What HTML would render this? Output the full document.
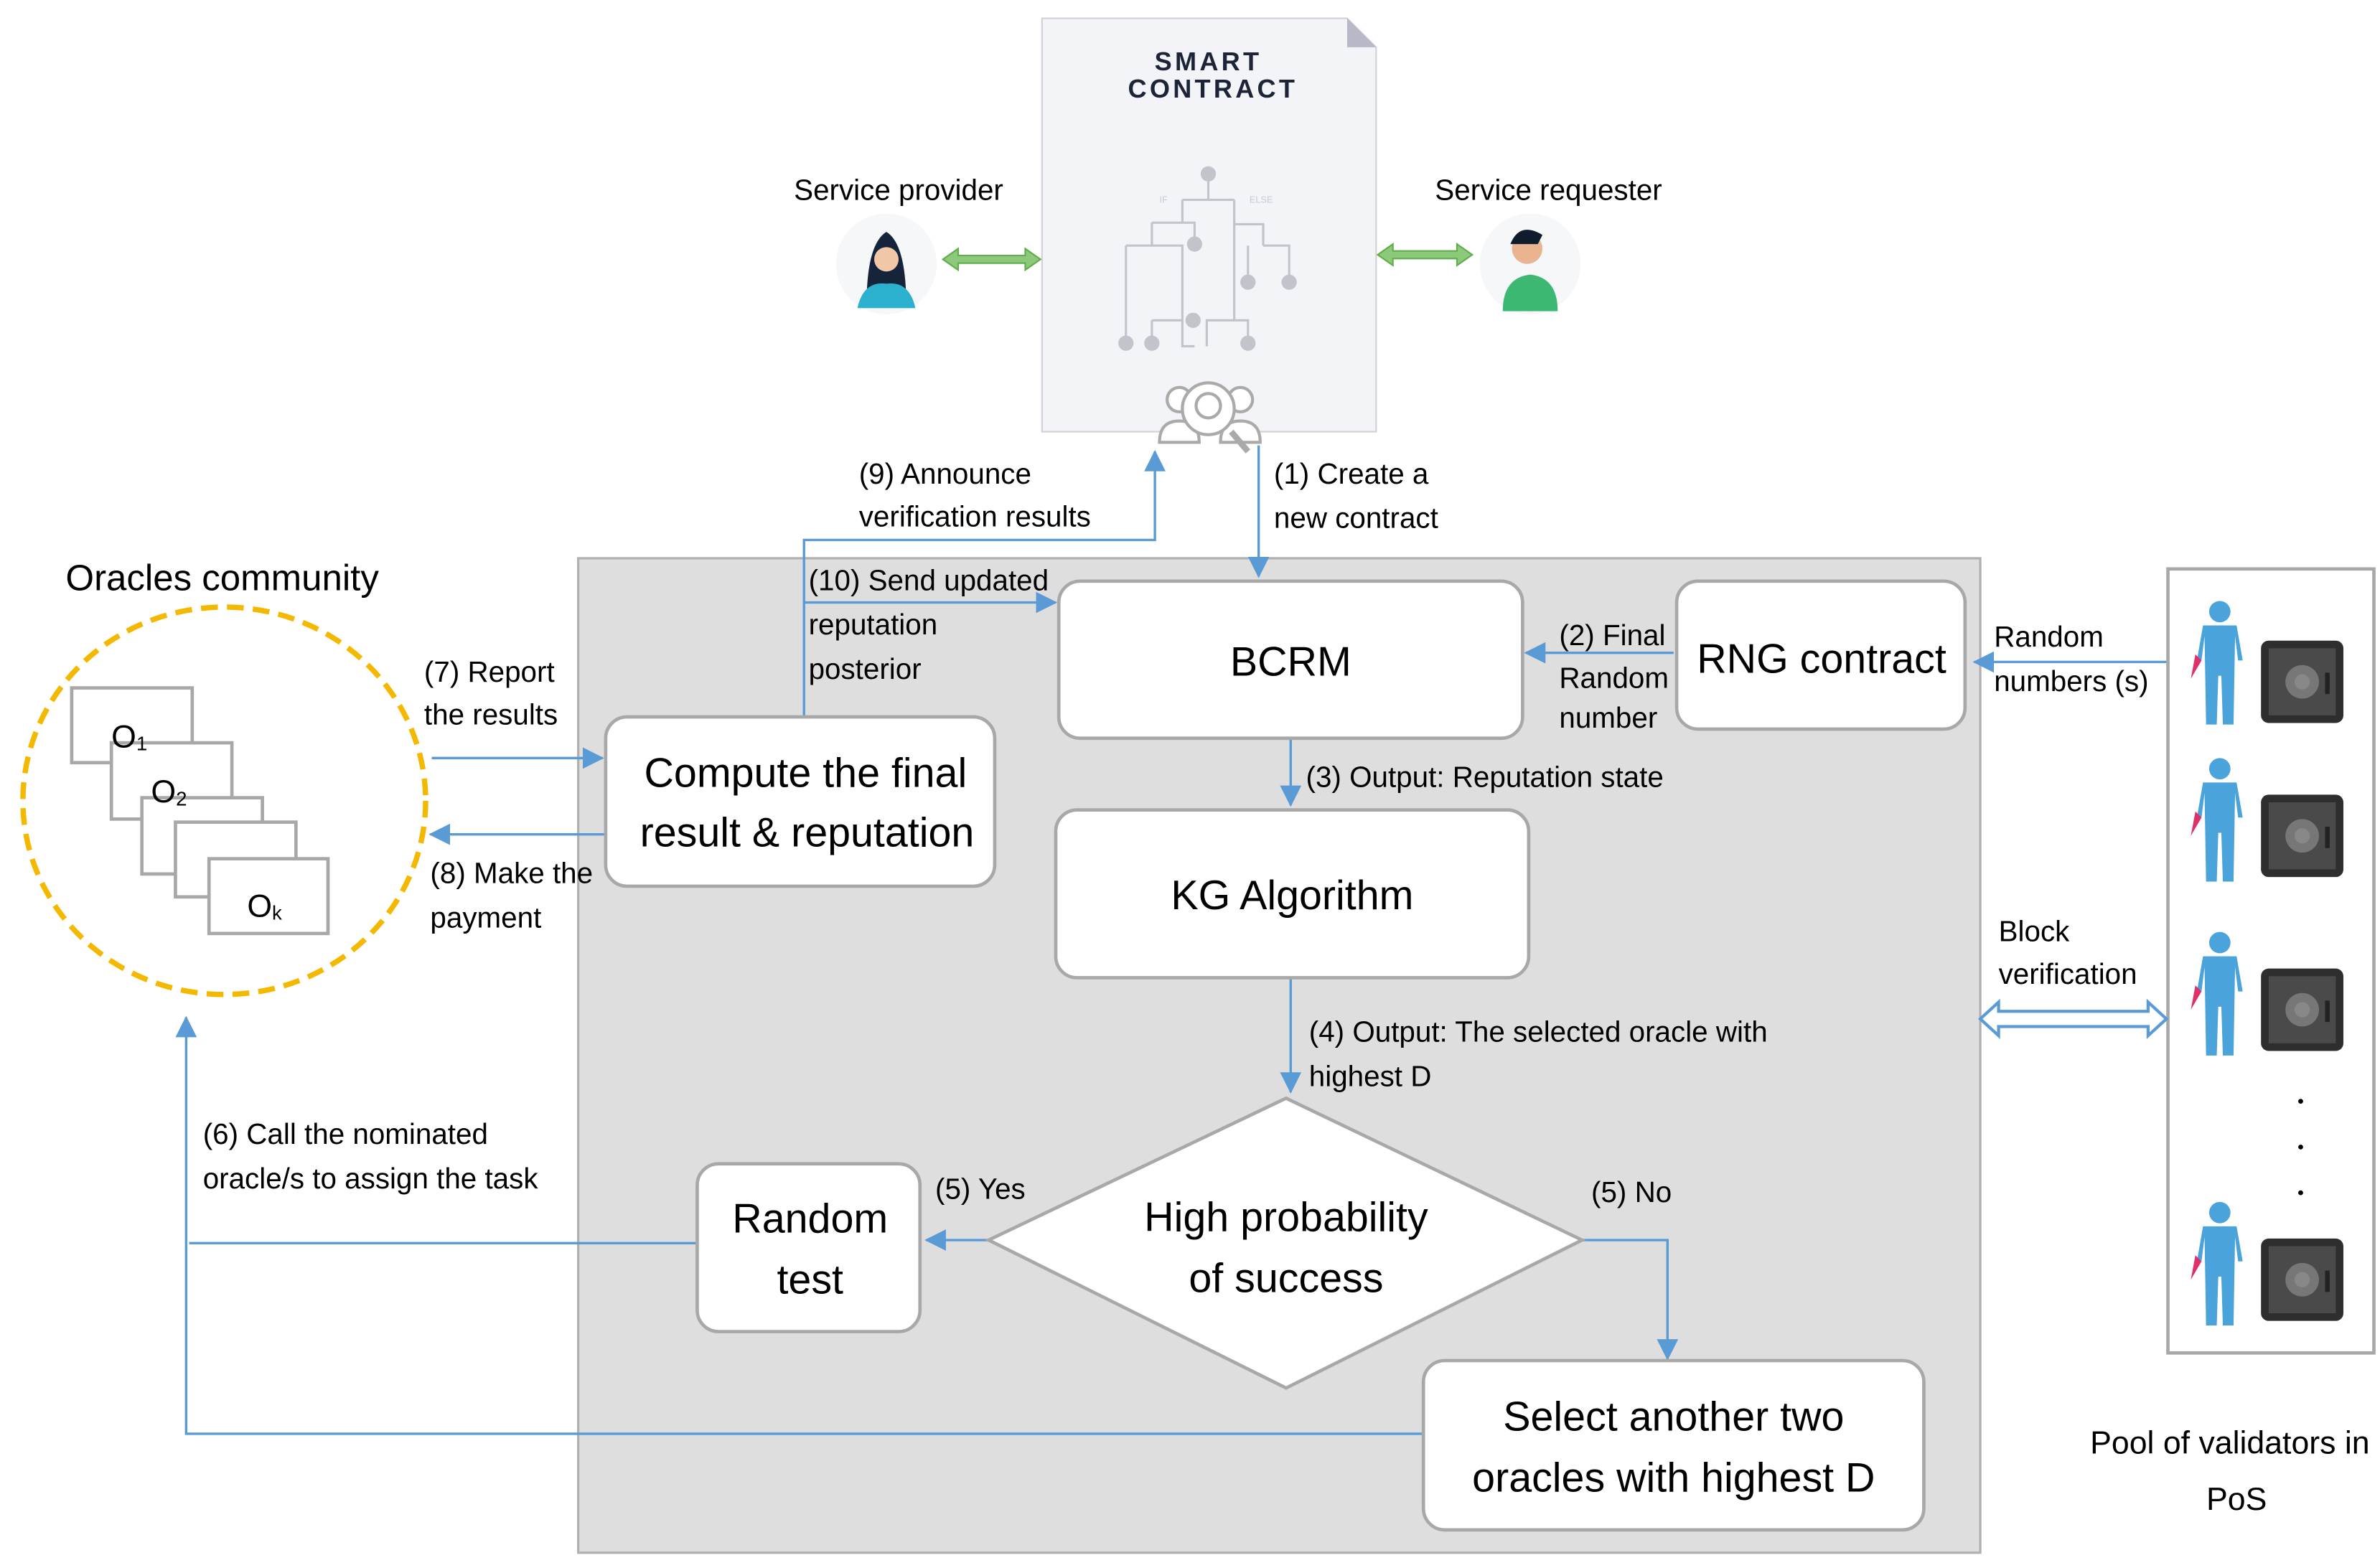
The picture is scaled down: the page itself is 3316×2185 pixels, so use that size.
<!DOCTYPE html>
<html><head><meta charset="utf-8"><style>
html,body{margin:0;padding:0;background:#fff;}
svg{display:block;}
text{font-family:"Liberation Sans Narrow","Liberation Sans",sans-serif;fill:#000;}
</style></head><body>
<svg width="3316" height="2185" viewBox="0 0 1560 1028" preserveAspectRatio="none" xmlns="http://www.w3.org/2000/svg">
<defs>
<marker id="ah" markerWidth="10" markerHeight="10" refX="9" refY="5" orient="auto" markerUnits="userSpaceOnUse"><path d="M0,0 L10,5 L0,10 z" fill="#5b9bd5"/></marker>
<marker id="ah2" markerWidth="14" markerHeight="14" refX="13" refY="7" orient="auto" markerUnits="userSpaceOnUse"><path d="M0,0 L14,7 L0,14 z" fill="#5b9bd5"/></marker>
<g id="person"><circle cx="0" cy="-34" r="7" fill="#4aa3db"/><path d="M-11,-25 L11,-25 L15,-2 L12,-2 L10,-18 L9,40 L2,40 L1,8 L-1,8 L-2,40 L-9,40 L-10,-18 L-12,-2 L-15,-2 z" fill="#4aa3db"/><path d="M-16,-6 L-12,-2 L-19,10 z" fill="#e0306a"/></g>
<g id="safe"><rect x="-27" y="-27" width="54" height="54" rx="5" fill="#2e2e2e"/><rect x="-22" y="-22" width="44" height="44" fill="#4a4a4a"/><circle cx="0" cy="0" r="11" fill="#777"/><circle cx="0" cy="0" r="5" fill="#888"/><rect x="15" y="-6" width="3" height="14" fill="#222"/></g>
</defs>

<!-- gray main area -->
<rect x="379" y="366" width="919" height="652" fill="#dedede" stroke="#b0b0b0" stroke-width="1.5"/>

<!-- Smart contract document -->
<path d="M683,12 L883,12 L902,31 L902,283 L683,283 z" fill="#f3f4f7" stroke="#d0d0d8" stroke-width="1"/>
<path d="M883,12 L902,31 L883,31 z" fill="#b8b8c8"/>
<text x="792" y="46" text-anchor="middle" font-size="17" font-weight="bold" letter-spacing="2" style="font-family:'Liberation Sans',sans-serif;fill:#1d2437">SMART</text>
<text x="795" y="64" text-anchor="middle" font-size="17" font-weight="bold" letter-spacing="2" style="font-family:'Liberation Sans',sans-serif;fill:#1d2437">CONTRACT</text>
<g stroke="#c2c4cc" stroke-width="1.5" fill="none">
<path d="M792,114 V131 M775,131 H809 M775,131 V146 M809,131 V147 M755,146 H783 V156 M755,146 V161 M738,161 H775 V227 H783 M738,161 V225 M809,147 V210 M809,147 H828 V161 M828,161 H845 V185 M818,161 V185 M755,210 H775 M755,210 V225 M791,227 V210 H818 V225"/>
</g>
<g fill="#c2c4cc"><circle cx="792" cy="114" r="5"/><circle cx="783" cy="160" r="5"/><circle cx="818" cy="185" r="5"/><circle cx="845" cy="185" r="5"/><circle cx="782" cy="210" r="5"/><circle cx="738" cy="225" r="5"/><circle cx="755" cy="225" r="5"/><circle cx="818" cy="225" r="5"/></g>
<text x="760" y="133" font-size="6" style="fill:#c8cad2">IF</text>
<text x="819" y="133" font-size="6" style="fill:#c8cad2">ELSE</text>
<!-- magnifier icon -->
<g fill="#fff" stroke="#aaa" stroke-width="2">
<circle cx="773" cy="262" r="8"/><circle cx="813" cy="262" r="8"/>
<path d="M760,290 Q760,276 773,276 Q786,276 786,290 z"/><path d="M800,290 Q800,276 813,276 Q826,276 826,290 z"/>
<circle cx="792" cy="268" r="17"/><circle cx="792" cy="266" r="8"/>
<path d="M807,283 L818,296" stroke-width="4"/>
</g>

<!-- Service provider / requester -->
<text x="589" y="131" text-anchor="middle" font-size="19">Service provider</text>
<circle cx="581" cy="173" r="33" fill="#f5f7f8"/>
<path d="M568,200 Q568,160 581,152 Q594,160 594,200 z" fill="#15243a"/>
<circle cx="581" cy="170" r="8" fill="#f1c7a8"/>
<path d="M562,202 Q566,184 581,186 Q596,184 600,202 z" fill="#2bb1cd"/>
<text x="1015" y="131" text-anchor="middle" font-size="19">Service requester</text>
<circle cx="1003" cy="173" r="33" fill="#f5f7f8"/>
<path d="M985,204 Q985,182 1003,180 Q1021,182 1021,204 z" fill="#3cb872"/>
<circle cx="1001" cy="163" r="10" fill="#e9b48f"/>
<path d="M990,160 Q996,145 1011,154 L1008,160 z" fill="#101b2c"/>
<!-- green double arrows -->
<g fill="#8dc97a" stroke="#5fae4a" stroke-width="1">
<path d="M618,170 L628,163 L628,167.5 L672,167.5 L672,163 L682,170 L672,177 L672,172.5 L628,172.5 L628,177 z"/>
<path d="M903,167 L913,160 L913,164.5 L955,164.5 L955,160 L965,167 L955,174 L955,169.5 L913,169.5 L913,174 z"/>
</g>

<!-- connectors -->
<g stroke="#5b9bd5" stroke-width="1.6" fill="none">
<path d="M527,470 V354 H757 V296" marker-end="url(#ah2)"/>
<path d="M825,292 V378" marker-end="url(#ah2)"/>
<path d="M527,395 H692" marker-end="url(#ah2)"/>
<path d="M1097,428 H1000" marker-end="url(#ah2)"/>
<path d="M1420,434 H1294" marker-end="url(#ah2)"/>
<path d="M846,484 V528" marker-end="url(#ah2)"/>
<path d="M846,641 V716" marker-end="url(#ah2)"/>
<path d="M648,813 H607" marker-end="url(#ah2)"/>
<path d="M1037,813 H1093 V891" marker-end="url(#ah2)"/>
<path d="M457,815 H124"/>
<path d="M933,940 H122 V667" marker-end="url(#ah2)"/>
<path d="M283,497 H395" marker-end="url(#ah2)"/>
<path d="M396,547 H282" marker-end="url(#ah2)"/>
</g>

<!-- boxes -->
<g fill="#fff" stroke="#a8a8a8" stroke-width="2.2">
<rect x="694" y="381" width="304" height="103" rx="14"/>
<rect x="1099" y="381" width="189" height="97" rx="14"/>
<rect x="692" y="531" width="310" height="110" rx="14"/>
<rect x="397" y="470" width="255" height="111" rx="14"/>
<rect x="457" y="763" width="146" height="110" rx="14"/>
<rect x="933" y="892" width="328" height="111" rx="14"/>
<path d="M843,720 L1037,813 L843,910 L648,813 z"/>
</g>
<g font-size="27" text-anchor="middle">
<text x="846" y="443">BCRM</text>
<text x="1194" y="441">RNG contract</text>
<text x="847" y="596">KG Algorithm</text>
<text x="528" y="516">Compute the final</text>
<text x="529" y="555">result &amp; reputation</text>
<text x="531" y="808">Random</text>
<text x="531" y="848">test</text>
<text x="1097" y="938">Select another two</text>
<text x="1097" y="978">oracles with highest D</text>
<text x="843" y="807">High probability</text>
<text x="843" y="847">of success</text>
</g>

<!-- labels -->
<g font-size="19">
<text x="563" y="317">(9) Announce</text>
<text x="563" y="345">verification results</text>
<text x="835" y="317">(1) Create a</text>
<text x="835" y="346">new contract</text>
<text x="530" y="387">(10) Send updated</text>
<text x="530" y="416">reputation</text>
<text x="530" y="445">posterior</text>
<text x="1022" y="423">(2) Final</text>
<text x="1022" y="451">Random</text>
<text x="1022" y="477">number</text>
<text x="1307" y="424">Random</text>
<text x="1307" y="453">numbers (s)</text>
<text x="856" y="516">(3) Output: Reputation state</text>
<text x="858" y="683">(4) Output: The selected oracle with</text>
<text x="858" y="712">highest D</text>
<text x="613" y="786">(5) Yes</text>
<text x="1043" y="788">(5) No</text>
<text x="133" y="750">(6) Call the nominated</text>
<text x="133" y="779">oracle/s to assign the task</text>
<text x="278" y="447">(7) Report</text>
<text x="278" y="475">the results</text>
<text x="282" y="579">(8) Make the</text>
<text x="282" y="608">payment</text>
<text x="1310" y="617">Block</text>
<text x="1310" y="645">verification</text>
<text x="1370" y="953" font-size="21">Pool of validators in</text>
<text x="1466" y="990" font-size="21" text-anchor="middle">PoS</text>
</g>

<!-- Oracles community -->
<text x="43" y="387" font-size="24">Oracles community</text>
<ellipse cx="147" cy="525" rx="132" ry="127" fill="none" stroke="#f5b800" stroke-width="3.5" stroke-dasharray="11,6"/>
<g fill="#fff" stroke="#a8a8a8" stroke-width="2.2">
<rect x="47" y="451" width="79" height="49"/>
<rect x="73" y="487" width="79" height="50"/>
<rect x="93" y="523" width="79" height="50"/>
<rect x="115" y="539" width="79" height="49"/>
<rect x="137" y="563" width="78" height="49"/>
</g>
<text x="73" y="490" font-size="21">O<tspan font-size="13" dy="2">1</tspan></text>
<text x="99" y="526" font-size="21">O<tspan font-size="13" dy="2">2</tspan></text>
<text x="162" y="601" font-size="21">O<tspan font-size="13" dy="2">k</tspan></text>

<!-- validators pool -->
<rect x="1421" y="373" width="135" height="514" fill="#fff" stroke="#a8a8a8" stroke-width="2.2"/>
<use href="#person" x="1455" y="435"/><use href="#safe" x="1509" y="447"/>
<use href="#person" x="1455" y="538"/><use href="#safe" x="1509" y="548"/>
<use href="#person" x="1455" y="652"/><use href="#safe" x="1509" y="662"/>
<use href="#person" x="1455" y="829"/><use href="#safe" x="1509" y="839"/>
<g fill="#000"><circle cx="1508" cy="722" r="1.6"/><circle cx="1508" cy="752" r="1.6"/><circle cx="1508" cy="782" r="1.6"/></g>
<!-- hollow double arrow -->
<path d="M1298,668 L1310,657 L1310,663 L1408,663 L1408,657 L1420,668 L1408,679 L1408,673 L1310,673 L1310,679 z" fill="#fff" stroke="#5b9bd5" stroke-width="2"/>
</svg>
</body></html>
